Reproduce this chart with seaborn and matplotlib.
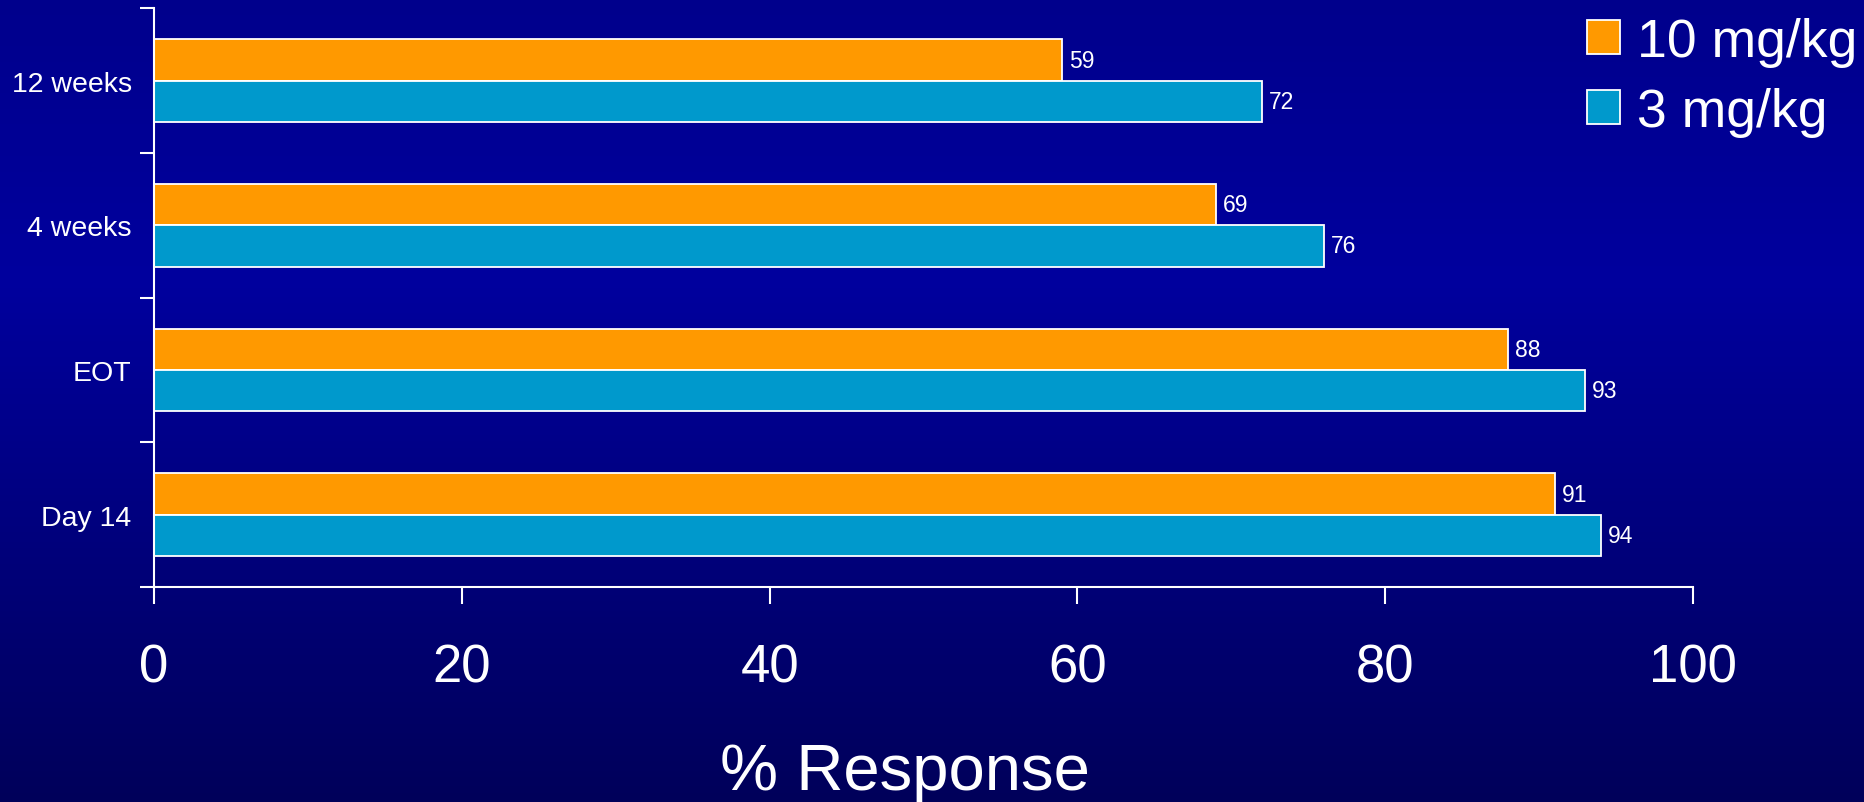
import numpy as np
import pandas as pd
import matplotlib
matplotlib.use("Agg")
import matplotlib.pyplot as plt
from matplotlib.colors import LinearSegmentedColormap
from matplotlib.patches import Patch
import seaborn as sns

# Response rates by time point and dose
timepoints = ["12 weeks", "4 weeks", "EOT", "Day 14"]
dose_labels = ["10 mg/kg", "3 mg/kg"]
response_10mg = [59, 69, 88, 91]
response_3mg = [72, 76, 93, 94]
x_ticks = [0, 20, 40, 60, 80, 100]

colors = {"10 mg/kg": "#FF9900", "3 mg/kg": "#0099CC"}

df = pd.DataFrame({
    "timepoint": timepoints * 2,
    "dose": [dose_labels[0]] * len(timepoints) + [dose_labels[1]] * len(timepoints),
    "response": response_10mg + response_3mg,
})

sns.set_theme(style="white")
plt.rcParams["font.family"] = ["Liberation Sans", "DejaVu Sans"]

fig = plt.figure(figsize=(18.64, 8.03), dpi=100)

# Vertical blue gradient behind everything
bg = fig.add_axes([0, 0, 1, 1], zorder=-10)
grad_cmap = LinearSegmentedColormap.from_list(
    "slide_bg", [(0.0, "#00008C"), (0.35, "#00009E"), (1.0, "#00005A")]
)
bg.imshow(np.linspace(0, 1, 256).reshape(-1, 1), aspect="auto", cmap=grad_cmap,
          extent=[0, 1, 0, 1], origin="upper")
bg.set_axis_off()

ax = fig.add_axes([0.0826, 0.2677, 0.9083 - 0.0826, 0.9884 - 0.2677])
ax.set_facecolor("none")

sns.barplot(data=df, y="timepoint", x="response", hue="dose", order=timepoints,
            hue_order=dose_labels, palette=colors, orient="h", width=0.57,
            saturation=1, edgecolor="white", linewidth=1.3, legend=False, ax=ax)

for cont in ax.containers:
    ax.bar_label(cont, padding=5, color="white", fontsize=16.5)

ax.set_xlim(0, 100)
ax.set_ylim(len(timepoints) - 0.5, -0.5)

# Category boundaries carry the tick marks, labels sit at the centres
ax.set_yticks(np.arange(len(timepoints) + 1) - 0.5)
ax.set_yticklabels([])
ax.set_yticks(np.arange(len(timepoints)), minor=True)
ax.set_yticklabels(timepoints, minor=True)
ax.tick_params(axis="y", which="major", left=True, length=10, width=1.5,
               color="white", direction="out")
ax.tick_params(axis="y", which="minor", left=True, length=0, pad=16,
               labelsize=20.5, labelcolor="white")

ax.set_xticks(x_ticks)
ax.set_xticklabels([str(t) for t in x_ticks])
ax.tick_params(axis="x", bottom=True, length=12, width=1.5, color="white",
               direction="out", pad=28, labelsize=38, labelcolor="white")

ax.set_ylabel("")
ax.set_xlabel("% Response", fontsize=47, color="white")
ax.xaxis.set_label_coords(0.488, -0.268)

for side in ["top", "right"]:
    ax.spines[side].set_visible(False)
for side in ["left", "bottom"]:
    ax.spines[side].set_color("white")
    ax.spines[side].set_linewidth(1.5)

handles = [Patch(facecolor=colors[d], edgecolor="white", linewidth=1.3) for d in dose_labels]
fig.legend(handles, dose_labels, loc="upper left", bbox_to_anchor=(1587 / 1864, 1 - 18 / 803),
           frameon=False, fontsize=38.5, labelcolor="white", handlelength=0.61,
           handleheight=0.61, handletextpad=0.33, labelspacing=0.37,
           borderpad=0, borderaxespad=0)

fig.savefig("out.png", dpi=100)
